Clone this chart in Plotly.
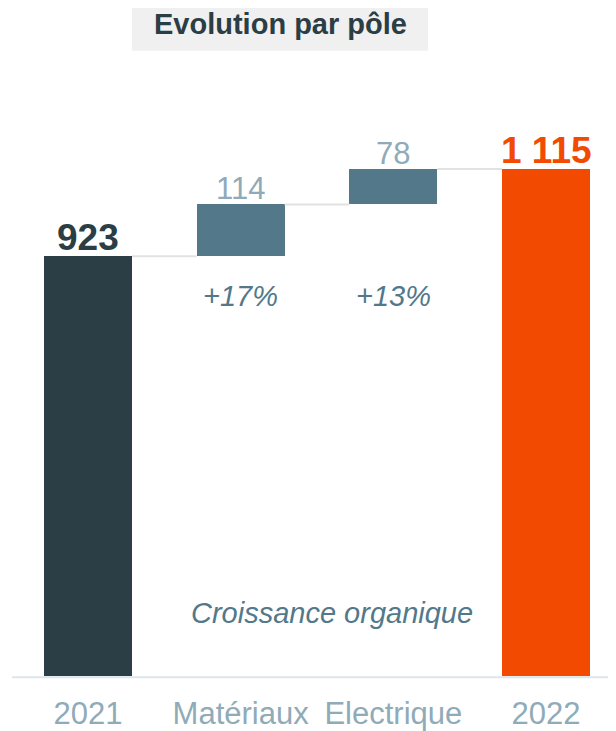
import plotly.graph_objects as go

categories = ["2021", "Matériaux", "Electrique", "2022"]
values = [923, 114, 78, 1115]
measures = ["absolute", "relative", "relative", "total"]
value_labels = ["923", "114", "78", "1 115"]
growth_labels = ["", "+17%", "+13%", ""]

FONT = "Liberation Sans, Arial, sans-serif"
DARK = "#2b3d45"
MID = "#52788a"
LIGHT = "#8fabb8"
ORANGE = "#f24a00"

# bases of the floating bars
bases, tops = [], []
running = 0
for v, m in zip(values, measures):
    if m == "relative":
        bases.append(running)
        running += v
    else:
        bases.append(0)
        running = v
    tops.append(running)
heights = [t - b for t, b in zip(tops, bases)]

bar_colors = [DARK, MID, MID, ORANGE]
label_colors = [DARK, LIGHT, LIGHT, ORANGE]
label_bold = [True, False, False, True]
bw = 0.576
xs = list(range(len(categories)))

W, H = 608, 723  # page body adds an 8px margin

fig = go.Figure()

# connectors
cx, cy = [], []
for i in range(len(xs) - 1):
    cx += [xs[i] + bw / 2, xs[i + 1] - bw / 2, None]
    cy += [tops[i], tops[i], None]
fig.add_trace(go.Scatter(x=cx, y=cy, mode="lines",
                         line=dict(color="#e2e2e2", width=2),
                         hoverinfo="skip", showlegend=False))

fig.add_trace(go.Bar(x=xs, y=heights, base=bases, width=bw,
                     marker=dict(color=bar_colors, line=dict(width=0)),
                     showlegend=False))

annotations = []
for i in xs:
    bold = label_bold[i]
    annotations.append(dict(
        x=xs[i], y=tops[i], xref="x", yref="y",
        text=f"<b>{value_labels[i]}</b>" if bold else value_labels[i],
        showarrow=False, xanchor="center", yanchor="bottom", yshift=-4,
        font=dict(family=FONT, size=37 if bold else 31, color=label_colors[i])))
    if growth_labels[i]:
        annotations.append(dict(
            x=xs[i], y=835, xref="x", yref="y",
            text=f"<i>{growth_labels[i]}</i>", showarrow=False,
            xanchor="center", yanchor="middle",
            font=dict(family=FONT, size=29, color=MID)))

annotations.append(dict(
    x=1.598, y=138, xref="x", yref="y", text="<i>Croissance organique</i>",
    showarrow=False, xanchor="center", yanchor="middle",
    font=dict(family=FONT, size=29, color=MID)))
annotations.append(dict(
    x=272 / W, y=1.0936, xref="paper", yref="paper", text="<b>Evolution par pôle</b>",
    showarrow=False, xanchor="center", yanchor="middle",
    font=dict(family=FONT, size=29, color=DARK)))

fig.update_layout(
    width=W, height=H,
    margin=dict(l=0, r=0, t=72, b=53),
    plot_bgcolor="white", paper_bgcolor="white",
    bargap=0,
    xaxis=dict(range=[-0.524, 3.4585], tickvals=xs, ticktext=categories,
               showgrid=False, zeroline=False, showline=False,
               ticks="outside", ticklen=10, tickcolor="rgba(0,0,0,0)",
               tickfont=dict(family=FONT, size=31, color=LIGHT)),
    yaxis=dict(range=[0, 1310.8], visible=False),
    annotations=annotations,
    shapes=[
        dict(type="rect", xref="paper", yref="paper",
             x0=124 / W, x1=420 / W, y0=1.049, y1=1.1338,
             fillcolor="#f0f0f0", line=dict(width=0), layer="below"),
        dict(type="line", xref="paper", yref="paper",
             x0=4 / W, x1=1, y0=-0.002, y1=-0.002,
             line=dict(color="#dde6ea", width=2)),
    ],
)

fig.write_html("out.html")
